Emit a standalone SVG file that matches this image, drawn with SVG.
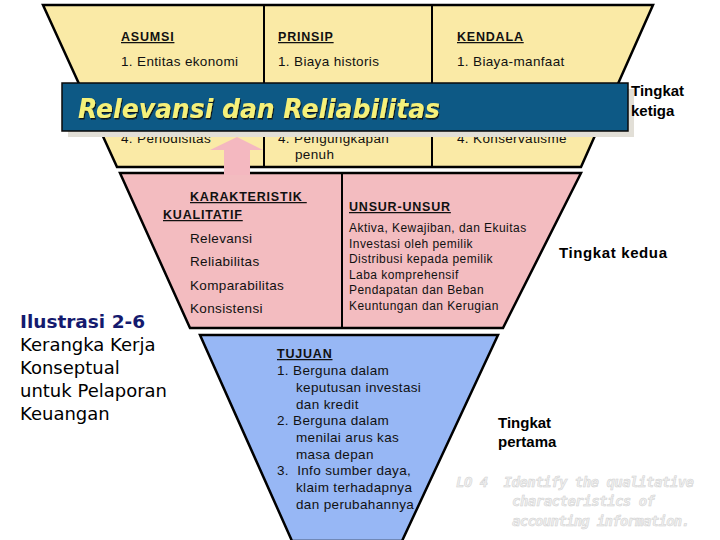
<svg xmlns="http://www.w3.org/2000/svg" width="720" height="540" viewBox="0 0 720 540">
<defs>
<filter id="sh" x="-5%" y="-20%" width="110%" height="150%">
<feDropShadow dx="1" dy="1.5" stdDeviation="0.4" flood-color="#111" flood-opacity="0.9"/>
</filter>
</defs>
<style>
.sec{stroke:#000;stroke-width:2.5;stroke-linejoin:miter}
.t{font-family:"Liberation Sans",Arial,sans-serif;font-size:13.5px;letter-spacing:0.35px;fill:#111}
.s{font-size:12px;letter-spacing:0.45px}
.h{font-size:12.5px;font-weight:bold;text-decoration:underline;letter-spacing:0.8px}
.lvl{font-family:"Liberation Sans",Arial,sans-serif;font-size:15px;font-weight:bold;fill:#000}
.cm{font-family:"DejaVu Sans",sans-serif;font-size:18px;fill:#000}
.lo{font-family:"DejaVu Sans Mono","DejaVu Sans",monospace;font-size:14px;font-weight:bold;font-style:italic;fill:#efefef;stroke:#d0d0d0;stroke-width:0.5}
</style>
<rect width="720" height="540" fill="#fff"/>
<g id="tingkat-ketiga">
<polygon class="sec" points="43,5 653,5 581,167 117,167" fill="#faeaa6"/>
<line x1="264" y1="5" x2="264" y2="167" stroke="#000" stroke-width="2"/>
<line x1="432" y1="5" x2="432" y2="167" stroke="#000" stroke-width="2"/>
<text class="t h" x="121" y="41">ASUMSI</text>
<text class="t h" x="278" y="41">PRINSIP</text>
<text class="t h" x="457" y="41">KENDALA</text>
<text class="t" x="121" y="66">1. Entitas ekonomi</text>
<text class="t" x="278" y="66">1. Biaya historis</text>
<text class="t" x="457" y="66">1. Biaya-manfaat</text>
<text class="t" x="121" y="143">4. Periodisitas</text>
<text class="t" x="278" y="143">4. Pengungkapan</text>
<text class="t" x="295" y="159">penuh</text>
<text class="t" x="457" y="143">4. Konservatisme</text>
</g>
<g id="tingkat-kedua">
<polygon class="sec" points="120,173 581,173 503,328 190,328" fill="#f3bcc0"/>
<line x1="342" y1="173" x2="342" y2="328" stroke="#000" stroke-width="2"/>
<text class="t h" x="190" y="201" xml:space="preserve">KARAKTERISTIK </text>
<text class="t h" x="163" y="219">KUALITATIF</text>
<text class="t" x="190" y="243">Relevansi</text>
<text class="t" x="190" y="266">Reliabilitas</text>
<text class="t" x="190" y="290">Komparabilitas</text>
<text class="t" x="190" y="313">Konsistensi</text>
<text class="t h" x="349" y="211">UNSUR-UNSUR</text>
<text class="t s" x="349" y="232">Aktiva, Kewajiban, dan Ekuitas</text>
<text class="t s" x="349" y="248">Investasi oleh pemilik</text>
<text class="t s" x="349" y="263">Distribusi kepada pemilik</text>
<text class="t s" x="349" y="279">Laba komprehensif</text>
<text class="t s" x="349" y="294">Pendapatan dan Beban</text>
<text class="t s" x="349" y="310">Keuntungan dan Kerugian</text>
</g>
<g id="tingkat-pertama">
<polygon class="sec" points="200,335 498,335 402,541 292,541" fill="#97b7f5"/>
<text class="t h" x="277" y="358">TUJUAN</text>
<text class="t" x="277" y="375">1. Berguna dalam</text>
<text class="t" x="296" y="392">keputusan investasi</text>
<text class="t" x="296" y="409">dan kredit</text>
<text class="t" x="277" y="425">2. Berguna dalam</text>
<text class="t" x="296" y="442">menilai arus kas</text>
<text class="t" x="296" y="459">masa depan</text>
<text class="t" x="277" y="475" xml:space="preserve">3.  Info sumber daya,</text>
<text class="t" x="296" y="492">klaim terhadapnya</text>
<text class="t" x="296" y="509">dan perubahannya</text>
</g>
<g id="connectors">
<polygon points="224,175 250,175 250,150 263,150 237,137 210,150 224,150" fill="#f4b8c0"/>
</g>
<g id="banner">
<rect x="68" y="89" width="566" height="48" fill="#e2dfd7"/>
<rect x="62" y="83" width="566" height="48" fill="#0d5985" stroke="#0a0a0a" stroke-width="1.5"/>
<text x="78" y="118" font-family="DejaVu Sans,sans-serif" font-size="26" font-weight="bold" font-style="italic" fill="#f5f07a" filter="url(#sh)" textLength="362" lengthAdjust="spacingAndGlyphs">Relevansi dan Reliabilitas</text>
</g>
<g id="labels">
<text class="lvl" x="631" y="96">Tingkat</text>
<text class="lvl" x="631" y="116">ketiga</text>
<text class="lvl" x="559" y="258" textLength="108">Tingkat kedua</text>
<text class="lvl" x="498" y="428">Tingkat</text>
<text class="lvl" x="498" y="447">pertama</text>
<text x="20" y="328" font-family="DejaVu Sans,sans-serif" font-size="18.5" font-weight="bold" fill="#141a6e">Ilustrasi 2-6</text>
<text class="cm" x="20" y="351">Kerangka Kerja</text>
<text class="cm" x="20" y="374">Konseptual</text>
<text class="cm" x="20" y="397">untuk Pelaporan</text>
<text class="cm" x="20" y="420">Keuangan</text>
<text class="lo" x="456" y="487" textLength="238" xml:space="preserve">LO 4  Identify the qualitative</text>
<text class="lo" x="512" y="506" textLength="143">characteristics of</text>
<text class="lo" x="512" y="526" textLength="178">accounting information.</text>
</g>
</svg>
